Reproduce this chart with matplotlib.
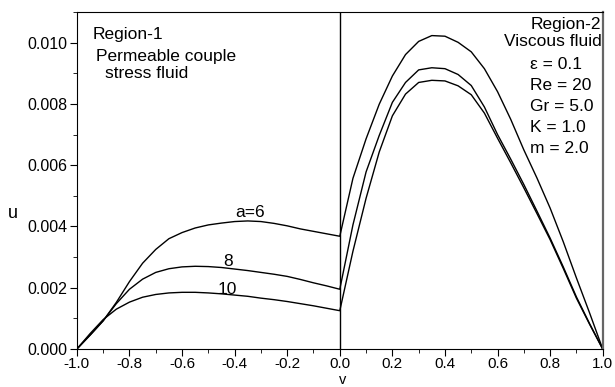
import matplotlib.pyplot as plt
import numpy as np
from matplotlib.ticker import MultipleLocator

plt.rcParams['font.family'] = ['Liberation Sans', 'DejaVu Sans']

# region 1 (permeable couple stress fluid), v from -1 to 0
v1 = [-1.0, -0.95, -0.9, -0.85, -0.8, -0.75, -0.7, -0.65, -0.6, -0.55, -0.5,
      -0.45, -0.4, -0.35, -0.3, -0.25, -0.2, -0.15, -0.1, -0.05, 0.0]
u1_a6 = [0.0, 0.00045, 0.00092, 0.00152, 0.00220, 0.00280, 0.00325, 0.00360,
         0.00380, 0.00395, 0.00405, 0.00411, 0.00416, 0.00418, 0.00416, 0.00410,
         0.00402, 0.00392, 0.00384, 0.00376, 0.00368]
u1_a8 = [0.0, 0.00045, 0.00092, 0.00148, 0.00195, 0.00228, 0.00250, 0.00262,
         0.00268, 0.00270, 0.00269, 0.00266, 0.00261, 0.00256, 0.00250, 0.00244,
         0.00237, 0.00227, 0.00216, 0.00206, 0.00195]
u1_a10 = [0.0, 0.00050, 0.00096, 0.00130, 0.00153, 0.00169, 0.00178, 0.00183,
          0.00185, 0.00185, 0.00183, 0.00180, 0.00176, 0.00172, 0.00166, 0.00161,
          0.00155, 0.00148, 0.00141, 0.00133, 0.00125]

# region 2 (viscous fluid), v from 0 to 1
v2 = [0.0, 0.05, 0.1, 0.15, 0.2, 0.25, 0.3, 0.35, 0.4, 0.45, 0.5,
      0.55, 0.6, 0.65, 0.7, 0.75, 0.8, 0.85, 0.9, 0.95, 1.0]
u2_a6 = [0.00368, 0.00557, 0.00686, 0.00799, 0.00891, 0.00961, 0.01004, 0.01023,
         0.01021, 0.01001, 0.00970, 0.00915, 0.00840, 0.00750, 0.00650, 0.00558,
         0.00460, 0.00350, 0.00232, 0.00118, 0.0]
u2_a8 = [0.00195, 0.00405, 0.00578, 0.00697, 0.00805, 0.00870, 0.00911, 0.00918,
         0.00915, 0.00896, 0.00860, 0.00790, 0.00700, 0.00620, 0.00537, 0.00450,
         0.00362, 0.00268, 0.00170, 0.00083, 0.0]
u2_a10 = [0.00125, 0.00319, 0.00492, 0.00643, 0.00761, 0.00832, 0.00870, 0.00877,
          0.00875, 0.00859, 0.00830, 0.00770, 0.00688, 0.00608, 0.00526, 0.00442,
          0.00357, 0.00263, 0.00166, 0.00081, 0.0]

params = ['\u03b5 = 0.1', 'Re = 20', 'Gr = 5.0', 'K = 1.0', 'm = 2.0']

fig = plt.figure(figsize=(6.15, 3.87), dpi=100)
ax = fig.add_axes([0.125, 0.0982, 0.855, 0.8708])

for u1, u2 in [(u1_a6, u2_a6), (u1_a8, u2_a8), (u1_a10, u2_a10)]:
    ax.plot(v1 + v2, u1 + u2, color='black', lw=1.0)

ax.axvline(0.0, color='black', lw=1.0)

ax.set_xlim(-1.0, 1.0)
ax.set_ylim(0.0, 0.011)
xt = np.arange(-1.0, 1.01, 0.2)
yt = np.arange(0, 0.0101, 0.002)
ax.set_xticks(xt)
ax.set_xticklabels(['%.1f' % (t + 0.0) for t in np.round(xt, 1)])
ax.set_yticks(yt)
ax.set_yticklabels(['%.3f' % t for t in yt])
ax.xaxis.set_minor_locator(MultipleLocator(0.1))
ax.yaxis.set_minor_locator(MultipleLocator(0.001))
ax.tick_params(which='major', direction='out', length=5, labelsize=11.5, pad=2)
ax.tick_params(axis='x', which='major', pad=1, labelsize=11)
ax.tick_params(which='minor', direction='out', length=3)
ax.spines['right'].set_color('#666666')
ax.spines['right'].set_linewidth(1.6)

fig.text(343 / 615, 0.001, 'v', fontsize=10.5, ha='center', va='bottom')
fig.text(13 / 615, 1 - 214 / 387, 'u', fontsize=13, ha='center', va='center')

fs = 12.5
ax.text(-0.939, 0.01026, 'Region-1', fontsize=fs, va='center')
ax.text(-0.928, 0.00954, 'Permeable couple', fontsize=fs, va='center')
ax.text(-0.894, 0.00899, 'stress fluid', fontsize=fs, va='center')
ax.text(0.995, 0.01058, 'Region-2', fontsize=fs, va='center', ha='right')
ax.text(0.995, 0.01003, 'Viscous fluid', fontsize=fs, va='center', ha='right')
for i, p in enumerate(params):
    ax.text(0.722, 0.00929 - i * 0.00069, p, fontsize=fs, va='center')

ax.text(-0.342, 0.00447, 'a=6', fontsize=fs, ha='center', va='center')
ax.text(-0.426, 0.00285, '8', fontsize=fs, ha='center', va='center')
ax.text(-0.426, 0.00194, '10', fontsize=fs, ha='center', va='center')

fig.savefig('out.png', dpi=100)
